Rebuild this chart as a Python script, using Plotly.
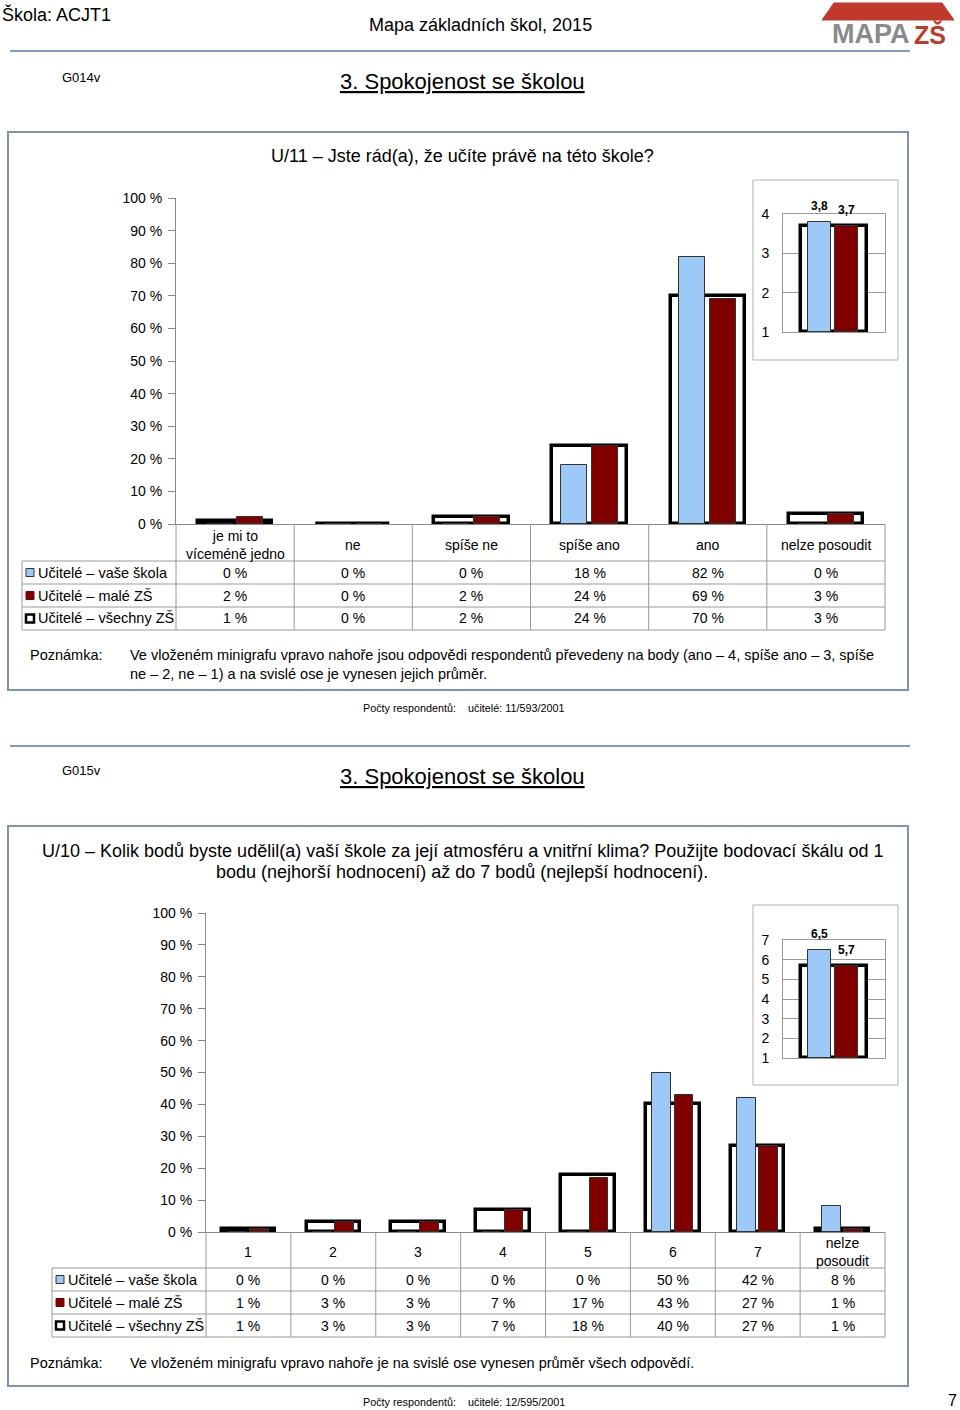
import plotly.graph_objects as go

W, H = 960, 1410
FONT = "Liberation Sans, Arial, sans-serif"
BLUE = "#9cc9f8"
RED = "#800000"
GRID = "#9a9a9a"
BOX = "#7f93b3"

# ---------------- data ----------------
series_names = ["Učitelé – vaše škola", "Učitelé – malé ZŠ", "Učitelé – všechny ZŠ"]

cats1 = ["je mi to<br>víceméně jedno", "ne", "spíše ne", "spíše ano", "ano", "nelze posoudit"]
school1 = [0, 0, 0, 18, 82, 0]
small1 = [2, 0, 2, 24, 69, 3]
all1 = [1, 0, 2, 24, 70, 3]
mini1 = [3.8, 3.7, 3.7]          # vaše škola, malé ZŠ, všechny ZŠ
mini1_ticks = [1, 2, 3, 4]

cats2 = ["1", "2", "3", "4", "5", "6", "7", "nelze<br>posoudit"]
school2 = [0, 0, 0, 0, 0, 50, 42, 8]
small2 = [1, 3, 3, 7, 17, 43, 27, 1]
all2 = [1, 3, 3, 7, 18, 40, 27, 1]
mini2 = [6.5, 5.7, 5.7]
mini2_ticks = [1, 2, 3, 4, 5, 6, 7]

pct_ticks = list(range(0, 101, 10))


def px(x):
    return x / W


def py(y):
    return 1 - y / H


fig = go.Figure()
shapes = []
ann = []


def text(x, y, s, size=14, xanchor="center", yanchor="middle", color="black", align="center", **kw):
    ann.append(dict(x=px(x), y=py(y), xref="paper", yref="paper", text=s, showarrow=False,
                    xanchor=xanchor, yanchor=yanchor, align=align,
                    font=dict(family=FONT, size=size, color=color), **kw))


def line(x0, y0, x1, y1, color=GRID, width=1):
    shapes.append(dict(type="line", xref="paper", yref="paper", x0=px(x0), y0=py(y0), x1=px(x1), y1=py(y1),
                       line=dict(color=color, width=width)))


def rect(x0, y0, x1, y1, fill="rgba(0,0,0,0)", color=GRID, width=1, layer="above"):
    shapes.append(dict(type="rect", xref="paper", yref="paper", x0=px(x0), y0=py(y0), x1=px(x1), y1=py(y1),
                       fillcolor=fill, line=dict(color=color, width=width), layer=layer))


def add_main(xa, ya, cats, school, small, allz):
    xs = list(range(len(cats)))
    fig.add_trace(go.Bar(x=xs, y=allz, xaxis=xa, yaxis=ya, width=0.63, offset=-0.315,
                         marker=dict(color="white", line=dict(color="black", width=3.5)),
                         name=series_names[2], showlegend=False))
    fig.add_trace(go.Bar(x=xs, y=school, xaxis=xa, yaxis=ya, width=0.22, offset=-0.24,
                         marker=dict(color=BLUE, line=dict(color="#333333", width=1)),
                         name=series_names[0], showlegend=False))
    fig.add_trace(go.Bar(x=xs, y=small, xaxis=xa, yaxis=ya, width=0.22, offset=0.02,
                         marker=dict(color=RED, line=dict(color="#333333", width=1)),
                         name=series_names[1], showlegend=False))


def add_mini(xa, ya, vals):
    lbl = [("<b>%.1f</b>" % v).replace(".", ",") for v in vals]
    fig.add_trace(go.Bar(x=[0], y=[vals[2] - 1], base=1, xaxis=xa, yaxis=ya, width=0.64, offset=-0.32,
                         marker=dict(color="white", line=dict(color="black", width=3.5)),
                         showlegend=False, name=series_names[2]))
    fig.add_trace(go.Bar(x=[0], y=[vals[0] - 1], base=1, xaxis=xa, yaxis=ya, width=0.225, offset=-0.255,
                         marker=dict(color=BLUE, line=dict(color="#333333", width=1)),
                         showlegend=False, name=series_names[0]))
    fig.add_trace(go.Bar(x=[0], y=[vals[1] - 1], base=1, xaxis=xa, yaxis=ya, width=0.225, offset=0.01,
                         marker=dict(color=RED, line=dict(color="#333333", width=1)),
                         showlegend=False, name=series_names[1]))
    for v, lab, c in ((vals[0], lbl[0], -0.255 + 0.1125), (vals[1], lbl[1], 0.01 + 0.1125)):
        ann.append(dict(x=c, y=v, xref=xa, yref=ya, text=lab, showarrow=False,
                        xanchor="center", yanchor="bottom", yshift=7,
                        font=dict(family=FONT, size=12, color="black")))


# ---------- geometry (pixels) ----------
M1 = dict(x0=176, x1=885, ytop=198, ybot=524)
M2 = dict(x0=206, x1=885, ytop=913, ybot=1232)
I1 = dict(x0=783, x1=885, ytop=214, ybot=332, box=(753, 180, 898, 360))
I2 = dict(x0=783, x1=885, ytop=940, ybot=1058, box=(753, 905, 898, 1085))

add_main("x", "y", cats1, school1, small1, all1)
add_mini("x2", "y2", mini1)
add_main("x3", "y3", cats2, school2, small2, all2)
add_mini("x4", "y4", mini2)

main_y = dict(range=[0, 100], tickvals=pct_ticks, ticktext=["%d %%" % t for t in pct_ticks],
              showgrid=False, zeroline=False, showline=True, linecolor="#888888", linewidth=1,
              ticks="outside", ticklen=7, tickcolor="#888888", automargin=False,
              ticklabelstandoff=3,
              tickfont=dict(family=FONT, size=14, color="black"), fixedrange=True)
main_x = dict(showgrid=False, zeroline=False, showline=True, linecolor="#888888", linewidth=1,
              showticklabels=False, ticks="", fixedrange=True, automargin=False)
mini_x = dict(range=[-0.5, 0.5], showgrid=False, zeroline=False, showline=True, mirror=True,
              linecolor=GRID, linewidth=1, showticklabels=False, ticks="", fixedrange=True,
              automargin=False)


def mini_y(ticks):
    return dict(range=[ticks[0], ticks[-1]], tickvals=ticks, showgrid=True, gridcolor=GRID, gridwidth=1,
                zeroline=False, showline=True, mirror=True, linecolor=GRID, linewidth=1, ticks="",
                ticklabelstandoff=10, automargin=False,
                tickfont=dict(family=FONT, size=14, color="black"), fixedrange=True)


fig.update_layout(
    template="none",
    width=W, height=H, autosize=False,
    margin=dict(l=0, r=0, t=0, b=0, pad=0, autoexpand=False),
    paper_bgcolor="white", plot_bgcolor="white", barmode="overlay", bargap=0,
    xaxis=dict(domain=[px(M1["x0"]), px(M1["x1"])], range=[-0.5, len(cats1) - 0.5], **main_x),
    yaxis=dict(domain=[py(M1["ybot"]), py(M1["ytop"])], anchor="x", **main_y),
    xaxis2=dict(domain=[px(I1["x0"]), px(I1["x1"])], anchor="y2", **mini_x),
    yaxis2=dict(domain=[py(I1["ybot"]), py(I1["ytop"])], anchor="x2", **mini_y(mini1_ticks)),
    xaxis3=dict(domain=[px(M2["x0"]), px(M2["x1"])], range=[-0.5, len(cats2) - 0.5], anchor="y3", **main_x),
    yaxis3=dict(domain=[py(M2["ybot"]), py(M2["ytop"])], anchor="x3", **main_y),
    xaxis4=dict(domain=[px(I2["x0"]), px(I2["x1"])], anchor="y4", **mini_x),
    yaxis4=dict(domain=[py(I2["ybot"]), py(I2["ytop"])], anchor="x4", **mini_y(mini2_ticks)),
)

# ---------- header ----------
text(0, 14, "Škola: ACJT1", size=18, xanchor="left")
text(480, 25, "Mapa základních škol, 2015", size=18)
shapes.append(dict(type="path", xref="paper", yref="paper",
                   path="M %f,%f L %f,%f L %f,%f L %f,%f Z" % (px(822), py(20), px(834), py(3), px(942), py(3), px(954), py(20)),
                   fillcolor="#c0392b", line=dict(color="#c0392b", width=1)))
text(871, 34, "<b>MAPA</b>", size=27, color="#8a8a8a")
text(930, 34, "<b>ZŠ</b>", size=25, color="#c0392b")
line(10, 51, 910, 51, color="#7f9bc8", width=2)

# ---------- section helper ----------
def section(code, y_code, y_title, box, q_lines, q_y, M, I, cats, school, small, allz, tbl_left,
            header_bot, rows, note_lines, note_y, count_text, count_y):
    text(60, y_code, code, size=13, xanchor="left")
    text(462, y_title, "<u>3. Spokojenost se školou</u>", size=22)
    rect(*box, color=BOX, width=2, layer="below")
    for i, q in enumerate(q_lines):
        text(462, q_y + i * 21, q, size=18)
    bx0, by0, bx1, by1 = I["box"]
    rect(bx0, by0, bx1, by1, fill="white", color="#b0b0b0", width=1, layer="below")
    n = len(cats)
    colw = (M["x1"] - M["x0"]) / n
    edges = [M["x0"] + i * colw for i in range(n + 1)]
    for e in edges:
        line(e, M["ybot"], e, rows[-1])
    for r in rows:
        line(tbl_left, r, M["x1"], r)
    line(tbl_left, rows[0], tbl_left, rows[-1])
    for i, c in enumerate(cats):
        cx = M["x0"] + (i + 0.5) * colw
        text(cx, (M["ybot"] + header_bot) / 2 + 2, c, size=14)
    series = [school, small, allz]
    swatch = [(BLUE, "#333333"), (RED, RED), ("white", "black")]
    for k in range(3):
        cy = (rows[k] + rows[k + 1]) / 2
        fill, edge = swatch[k]
        rect(tbl_left + 4, cy - 4, tbl_left + 12, cy + 4, fill=fill, color=edge,
             width=2.5 if k == 2 else 1)
        text(tbl_left + 14, cy, series_names[k], size=14.5, xanchor="left")
        for i, v in enumerate(series[k]):
            cx = M["x0"] + (i + 0.5) * colw
            text(cx, cy, "%d %%" % v, size=14)
    text(28, note_y, "Poznámka:", size=14.5, xanchor="left", yanchor="top")
    text(128, note_y, "<br>".join(note_lines), size=14.5, xanchor="left", yanchor="top", align="left")
    text(361, count_y, count_text, size=10.8, xanchor="left")


section("G014v", 77, 81, (8, 132, 908, 690),
        ["U/11 – Jste rád(a), že učíte právě na této škole?"], 156,
        M1, I1, cats1, school1, small1, all1, 22, 561, [561, 584, 607, 630],
        ["Ve vloženém minigrafu vpravo nahoře jsou odpovědi respondentů převedeny na body (ano – 4, spíše ano – 3, spíše",
         "ne – 2, ne – 1) a na svislé ose je vynesen jejich průměr."], 645,
        "Počty respondentů:    učitelé: 11/593/2001", 708)

line(10, 746, 910, 746, color="#7f9bc8", width=2)

section("G015v", 771, 776, (8, 826, 908, 1386),
        ["U/10 – Kolik bodů byste udělil(a) vaší škole za její atmosféru a vnitřní klima? Použijte bodovací škálu od 1",
         "bodu (nejhorší hodnocení) až do 7 bodů (nejlepší hodnocení)."], 851,
        M2, I2, cats2, school2, small2, all2, 52, 1268, [1268, 1291, 1314, 1337],
        ["Ve vloženém minigrafu vpravo nahoře je na svislé ose vynesen průměr všech odpovědí."], 1353,
        "Počty respondentů:    učitelé: 12/595/2001", 1402)

text(952, 1400, "7", size=16)

fig.update_layout(shapes=shapes, annotations=ann)
fig.write_html("out.html", config={"displayModeBar": False},
               post_script="document.body.style.margin='0px';document.body.style.overflow='hidden';")
